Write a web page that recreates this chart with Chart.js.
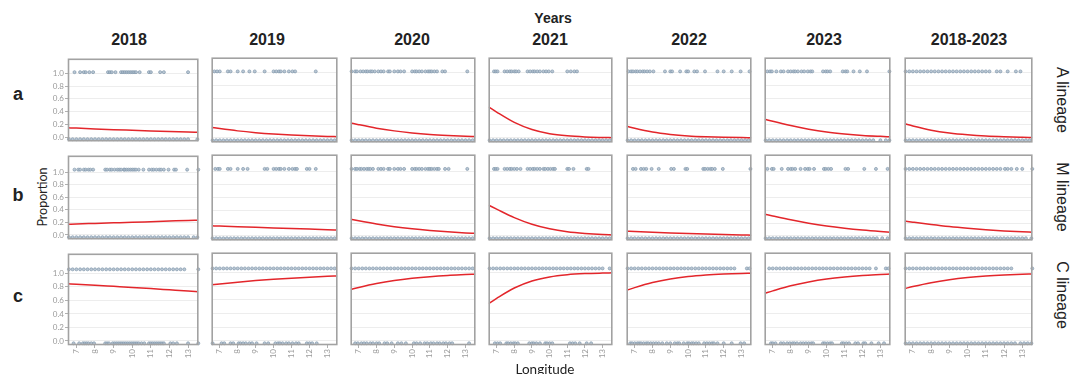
<!DOCTYPE html>
<html>
<head>
<meta charset="utf-8">
<script src="https://cdn.jsdelivr.net/npm/chart.js@4.4.1/dist/chart.umd.min.js"></script>
<style>
  body { margin: 0; background: #fff; }
  #wrap { position: relative; width: 1083px; height: 374px; overflow: hidden; background: #fff; }
  #wrap canvas { position: absolute; }
  .lbl { position: absolute; white-space: nowrap; line-height: 1; color: #222; }
</style>
</head>
<body>
<div id="wrap"></div>
<script>
// facets
const years = ['2018', '2019', '2020', '2021', '2022', '2023', '2018-2023'];
const lineages = ['A lineage', 'M lineage', 'C lineage'];
const rowLetters = ['a', 'b', 'c'];

// tick labels
const xTicks = [7, 8, 9, 10, 11, 12, 13];
const yTicks = [0, 0.2, 0.4, 0.6, 0.8, 1.0];

// fitted curve, read at these longitudes
const curveX = [6.55, 7, 8, 9, 10, 11, 12, 13, 13.55];
const curveA = [
  [0.145, 0.140, 0.127, 0.116, 0.106, 0.096, 0.087, 0.079, 0.075],
  [0.162, 0.144, 0.109, 0.082, 0.061, 0.045, 0.033, 0.024, 0.020],
  [0.231, 0.204, 0.150, 0.109, 0.078, 0.055, 0.039, 0.027, 0.022],
  [0.476, 0.397, 0.239, 0.130, 0.066, 0.033, 0.016, 0.008, 0.005],
  [0.180, 0.148, 0.091, 0.055, 0.032, 0.019, 0.011, 0.006, 0.005],
  [0.287, 0.255, 0.190, 0.135, 0.092, 0.062, 0.040, 0.025, 0.018],
  [0.217, 0.183, 0.119, 0.076, 0.048, 0.029, 0.018, 0.011, 0.008]
];
const curveB = [
  [0.171, 0.175, 0.184, 0.193, 0.202, 0.212, 0.222, 0.232, 0.236],
  [0.157, 0.153, 0.144, 0.134, 0.125, 0.116, 0.107, 0.098, 0.093],
  [0.259, 0.235, 0.186, 0.144, 0.111, 0.085, 0.064, 0.048, 0.041],
  [0.477, 0.416, 0.285, 0.182, 0.111, 0.065, 0.038, 0.021, 0.016],
  [0.074, 0.068, 0.056, 0.046, 0.037, 0.029, 0.022, 0.016, 0.012],
  [0.338, 0.310, 0.250, 0.198, 0.154, 0.119, 0.091, 0.069, 0.059],
  [0.231, 0.214, 0.178, 0.146, 0.120, 0.098, 0.079, 0.064, 0.058]
];
const curveC = [
  [0.845, 0.839, 0.824, 0.808, 0.792, 0.775, 0.757, 0.739, 0.729],
  [0.820, 0.833, 0.859, 0.882, 0.902, 0.918, 0.932, 0.944, 0.950],
  [0.752, 0.781, 0.838, 0.882, 0.915, 0.940, 0.958, 0.970, 0.976],
  [0.546, 0.622, 0.773, 0.876, 0.936, 0.968, 0.984, 0.992, 0.995],
  [0.740, 0.779, 0.853, 0.906, 0.941, 0.963, 0.977, 0.986, 0.989],
  [0.696, 0.732, 0.806, 0.862, 0.905, 0.935, 0.956, 0.970, 0.977],
  [0.766, 0.795, 0.851, 0.894, 0.926, 0.949, 0.965, 0.976, 0.980]
];

// observations (longitude) at 1 and 0
const denseFull = [6.6, 6.8, 7.0, 7.2, 7.4, 7.6, 7.8, 8.0, 8.2, 8.4, 8.6, 8.8, 9.0, 9.2, 9.4, 9.6, 9.8, 10.0,
  10.2, 10.4, 10.6, 10.8, 11.0, 11.2, 11.4, 11.6, 11.8, 12.0, 12.2, 12.4, 12.6, 12.8, 13.0, 13.2, 13.4];
const dense = (a, b) => denseFull.filter(v => v >= a - 1e-9 && v <= b + 1e-9);

const onesA = [
  [6.9, 7.2, 7.4, 7.5, 7.7, 7.9, 8.7, 8.8, 8.9, 9.1, 9.4, 9.5, 9.6, 9.7, 9.8, 9.9, 10.0, 10.1, 10.2, 10.4, 10.9, 11.0, 11.5, 11.7, 13.0],
  [6.7, 6.85, 7.0, 7.45, 7.6, 8.0, 8.3, 8.65, 8.95, 9.5, 10.0, 10.15, 10.3, 10.4, 10.6, 10.85, 11.05, 11.2, 12.35],
  [6.6, 6.8, 6.9, 7.1, 7.25, 7.4, 7.5, 7.65, 7.75, 7.9, 8.1, 8.25, 8.4, 8.65, 8.75, 9.0, 9.2, 9.35, 9.55, 10.0, 10.15,
    10.25, 10.4, 10.55, 10.75, 10.9, 11.0, 11.1, 11.25, 11.4, 11.7, 11.85, 13.1],
  [6.85, 6.95, 7.05, 7.45, 7.6, 7.75, 7.85, 8.0, 8.1, 8.25, 8.75, 8.9, 9.05, 9.15, 9.3, 9.45, 9.65, 9.8, 9.95, 10.15, 11.0, 11.2, 11.4, 11.55],
  [6.65, 6.8, 6.9, 7.05, 7.15, 7.3, 7.45, 7.55, 7.7, 7.85, 8.05, 8.7, 9.0, 9.1, 9.55, 9.9, 10.0, 10.35, 10.5, 10.95, 11.65, 12.0, 12.45, 12.95, 13.45],
  [6.7, 6.85, 6.95, 7.2, 7.45, 7.6, 7.85, 8.0, 8.15, 8.25, 8.4, 8.6, 8.75, 8.95, 9.1, 9.2, 9.8, 9.95, 10.05, 10.2, 10.9,
    11.05, 11.15, 11.5, 11.85, 12.25, 13.5],
  [...dense(6.6, 11.2), 11.6, 11.8, 12.2, 12.65, 12.9]
];
const zerosA = [
  [...dense(6.6, 13.0), 13.5],
  denseFull, denseFull, denseFull, denseFull,
  [...dense(6.6, 12.6), 13.0, 13.3, 13.5],
  denseFull
];
const onesB = [
  [6.9, 7.1, 7.2, 7.4, 7.5, 7.65, 7.75, 7.9, 8.55, 8.65, 8.8, 8.9, 9.05, 9.2, 9.3, 9.4, 9.55, 9.6, 9.7, 9.8, 9.9, 10.0,
    10.1, 10.2, 10.35, 10.6, 10.9, 11.05, 11.15, 11.3, 11.45, 11.55, 11.7, 11.95, 12.25, 12.35, 12.95, 13.55],
  [6.75, 6.9, 7.0, 7.45, 7.6, 8.0, 8.3, 8.55, 9.5, 9.65, 10.0, 10.15, 10.3, 10.4, 10.6, 10.85, 11.05, 11.2, 11.3, 11.85, 12.0, 12.35],
  [6.6, 6.8, 6.9, 7.05, 7.15, 7.3, 7.45, 7.55, 7.65, 7.8, 8.1, 8.25, 8.4, 8.65, 8.75, 9.0, 9.2, 9.35, 9.55, 10.0, 10.15,
    10.25, 10.4, 10.55, 10.75, 10.9, 11.0, 11.1, 11.25, 11.4, 11.5, 11.85, 12.05, 13.1],
  [6.85, 6.95, 7.05, 7.45, 7.6, 7.75, 7.85, 8.0, 8.15, 8.35, 8.75, 8.9, 9.05, 9.15, 9.3, 9.45, 9.65, 9.75, 9.9, 10.05,
    10.2, 10.3, 11.0, 11.1, 11.35, 12.1, 12.2],
  [6.9, 7.05, 7.35, 7.5, 7.65, 7.95, 8.35, 9.05, 9.2, 9.85, 9.95, 10.85, 10.95, 11.1, 11.25, 11.35, 11.5, 11.95, 13.5],
  [6.7, 6.95, 7.05, 7.5, 7.85, 8.0, 8.1, 8.25, 8.55, 8.8, 8.95, 9.05, 9.3, 9.85, 9.95, 10.1, 10.25, 11.05, 11.2, 12.1, 12.75, 13.4],
  [...dense(6.6, 11.8), 12.05, 12.2, 12.4, 12.7, 13.0, 13.55]
];
const zerosB = [
  [...dense(6.6, 13.0), 13.3, 13.5],
  denseFull, denseFull, denseFull, denseFull,
  [...dense(6.6, 12.8), 13.1, 13.4],
  [...dense(6.6, 13.2), 13.5]
];
const onesC = [
  [...dense(6.6, 12.8), 13.55],
  denseFull, denseFull,
  [...dense(6.6, 13.0), 13.4],
  [...dense(6.6, 12.6), 13.3, 13.45],
  [...dense(6.8, 12.4), 12.75, 13.3, 13.45],
  [...dense(6.6, 12.4), 13.55]
];
const zerosC = [
  [6.85, 7.15, 7.35, 7.45, 7.55, 7.65, 7.8, 7.95, 8.55, 8.65, 8.75, 8.95, 9.05, 9.15, 9.25, 9.35, 9.45, 9.55, 9.65, 9.75,
    9.85, 9.95, 10.05, 10.15, 10.25, 10.35, 10.5, 10.65, 10.9, 11.0, 11.1, 11.2, 11.3, 11.4, 11.5, 11.6, 11.7, 12.05, 12.2, 12.4, 13.0, 13.55],
  [6.6, 7.1, 7.25, 7.6, 7.75, 8.05, 8.15, 8.3, 8.45, 8.65, 8.8, 9.05, 9.5, 9.7, 10.1, 10.25, 10.35, 10.5, 10.7, 10.85,
    11.05, 11.25, 11.4, 11.85, 12.0, 12.15, 12.4],
  [6.8, 6.95, 7.15, 7.3, 7.45, 7.65, 7.8, 8.0, 8.15, 8.45, 8.6, 8.85, 9.2, 9.4, 9.65, 10.1, 10.25, 10.45, 10.7, 10.85,
    11.05, 11.2, 11.4, 11.55, 11.75, 11.9, 12.1, 12.25, 13.2],
  [6.9, 7.05, 7.2, 7.55, 7.65, 7.8, 7.95, 8.05, 8.2, 8.85, 9.0, 9.1, 9.25, 9.45, 9.75, 9.85, 10.0, 10.15, 11.15, 11.3, 11.45, 11.7, 12.1, 12.35],
  [6.75, 6.85, 7.0, 7.15, 7.25, 7.35, 7.5, 7.65, 7.75, 7.9, 8.05, 8.2, 8.35, 8.55, 8.8, 9.0, 9.25, 9.4, 9.5, 9.75, 9.95,
    10.05, 10.2, 10.3, 10.45, 10.6, 10.9, 11.05, 11.2, 11.35, 11.45, 11.65, 12.0, 12.45, 12.95, 13.15],
  [6.9, 7.0, 7.15, 7.45, 7.6, 7.8, 7.95, 8.1, 8.2, 8.35, 8.55, 8.7, 8.85, 9.0, 9.15, 9.25, 9.8, 9.9, 10.05, 10.2, 10.3,
    10.85, 10.95, 11.1, 11.25, 11.6, 11.75, 12.05, 12.15, 12.5, 12.9, 13.2],
  [...dense(6.6, 12.6), 12.9, 13.1, 13.3, 13.5]
];

// small vertical offset of the 1/0 dot rows, as plotted
const onesY = [1.02, 1.04, 1.06];
const zerosY = -0.035;

const curves = [curveA, curveB, curveC];
const ones = [onesA, onesB, onesC];
const zeros = [zerosA, zerosB, zerosC];

// layout
const colLeft = [68, 207, 346, 484, 622, 760, 900];
const colW = [135, 135, 134, 133, 134, 135, 137];
const rowTop = [53, 150, 248];
const rowH = [94, 95, 97];
const yRange = [[-0.066, 1.23], [-0.067, 1.26], [-0.06, 1.29]];
const yAxisW = 17, xAxisH = 20;

const wrap = document.getElementById('wrap');
const tickFont = { family: 'Lato', size: 8 };
const tickColor = '#9a9a9a';

const frame = {
  id: 'frame',
  afterDraw(chart) {
    const a = chart.chartArea, c = chart.ctx;
    c.save();
    c.strokeStyle = '#a2a2a2';
    c.lineWidth = 1.6;
    c.strokeRect(a.left + 0.5, a.top + 0.5, a.right - a.left - 1, a.bottom - a.top - 1);
    c.restore();
  }
};

for (let r = 0; r < 3; r++) {
  for (let c = 0; c < 7; c++) {
    const cv = document.createElement('canvas');
    const w = colW[c] + (c === 0 ? yAxisW : 0);
    const h = rowH[r] + (r === 2 ? xAxisH : 0);
    cv.width = w; cv.height = h;
    cv.style.left = (colLeft[c] - (c === 0 ? yAxisW : 0)) + 'px';
    cv.style.top = rowTop[r] + 'px';
    cv.style.width = w + 'px'; cv.style.height = h + 'px';
    wrap.appendChild(cv);

    const dot = {
      pointRadius: 1.5,
      pointBackgroundColor: 'rgba(170,186,202,0.8)',
      pointBorderColor: '#8096aa',
      pointBorderWidth: 0.7,
      showLine: false,
      clip: false
    };

    new Chart(cv, {
      type: 'scatter',
      data: {
        datasets: [
          {
            type: 'line',
            data: curveX.map((x, i) => ({ x: x, y: curves[r][c][i] })),
            borderColor: '#e3262b',
            borderWidth: 1.5,
            pointRadius: 0,
            cubicInterpolationMode: 'monotone',
            fill: false
          },
          Object.assign({ data: ones[r][c].map(x => ({ x: x, y: onesY[r] })) }, dot),
          Object.assign({ data: zeros[r][c].map(x => ({ x: x, y: zerosY })) }, dot)
        ]
      },
      options: {
        responsive: false,
        animation: false,
        events: [],
        layout: { padding: 0 },
        plugins: { legend: { display: false }, tooltip: { enabled: false } },
        scales: {
          x: {
            type: 'linear',
            min: 6.55, max: 13.55,
            afterBuildTicks: s => { s.ticks = xTicks.map(v => ({ value: v })); },
            afterFit: s => { s.height = r === 2 ? xAxisH : 0; },
            border: { display: false },
            grid: { drawOnChartArea: false, drawTicks: r === 2, tickLength: 3, tickColor: '#b0b0b0' },
            ticks: { display: r === 2, autoSkip: false, minRotation: 90, maxRotation: 90, padding: 1, font: tickFont, color: tickColor }
          },
          y: {
            min: yRange[r][0], max: yRange[r][1],
            afterBuildTicks: s => { s.ticks = yTicks.map(v => ({ value: v })); },
            afterFit: s => { s.width = c === 0 ? yAxisW : 0; },
            border: { display: false },
            grid: { color: '#ededed', lineWidth: 1, drawTicks: c === 0, tickLength: 3, tickColor: '#b0b0b0' },
            ticks: { display: c === 0, padding: 1, font: tickFont, color: tickColor, callback: v => v.toFixed(1) }
          }
        }
      },
      plugins: [frame]
    });
  }
}

// text
function label(text, cx, cy, css, rot) {
  const d = document.createElement('div');
  d.className = 'lbl';
  d.textContent = text;
  Object.assign(d.style, css);
  d.style.left = cx + 'px';
  d.style.top = cy + 'px';
  d.style.transform = 'translate(-50%,-50%)' + (rot ? ' rotate(' + rot + 'deg)' : '');
  wrap.appendChild(d);
}
const titleX = [129, 267, 412, 550, 689, 824, 969];
label('Years', 553, 17.5, { font: 'bold 14px "Liberation Sans"' });
years.forEach((y, i) => label(y, titleX[i], 39.5, { font: 'bold 16px "Liberation Sans"' }));
const letterY = [94, 195, 296];
rowLetters.forEach((t, i) => label(t, 18, letterY[i], { font: 'bold 18px "Liberation Sans"' }));
const lineageY = [100, 197, 295];
lineages.forEach((t, i) => label(t, 1062, lineageY[i], { font: '16px "Liberation Sans"' }, 90));
label('Proportion', 41.5, 197, { font: '12.5px Lato' }, -90);
label('Longitude', 545, 369, { font: '13.5px Lato' });
</script>
</body>
</html>
